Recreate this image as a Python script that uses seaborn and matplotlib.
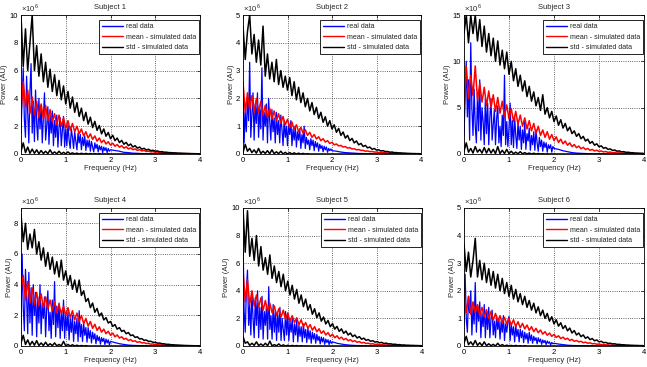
"""Power spectra of real vs simulated data for six subjects (2x3 grid)."""

import matplotlib

matplotlib.use("Agg")
import matplotlib.pyplot as plt
import seaborn as sns
from matplotlib.lines import Line2D

# frequency axis of the simulated spectra (Hz)
freq_hz = [
    0.00, 0.05, 0.10, 0.15, 0.20, 0.25, 0.30, 0.35, 0.40, 0.45,
    0.50, 0.55, 0.60, 0.65, 0.70, 0.75, 0.80, 0.85, 0.90, 0.95,
    1.00, 1.05, 1.10, 1.15, 1.20, 1.25, 1.30, 1.35, 1.40, 1.45,
    1.50, 1.55, 1.60, 1.65, 1.70, 1.75, 1.80, 1.85, 1.90, 1.95,
    2.00, 2.05, 2.10, 2.15, 2.20, 2.25, 2.30, 2.35, 2.40, 2.45,
    2.50, 2.55, 2.60, 2.65, 2.70, 2.75, 2.80, 2.85, 2.90, 2.95,
    3.00, 3.05, 3.10, 3.15, 3.20, 3.25, 3.30, 3.35, 3.40, 3.45,
    3.50, 3.55, 3.60, 3.65, 3.70, 3.75, 3.80, 3.85, 3.90, 3.95,
    4.00,
]

# frequency axis of the real spectra (finer below 2 Hz)
real_freq_hz = [
    0.000, 0.025, 0.050, 0.075, 0.100, 0.125, 0.150, 0.175, 0.200, 0.225,
    0.250, 0.275, 0.300, 0.325, 0.350, 0.375, 0.400, 0.425, 0.450, 0.475,
    0.500, 0.525, 0.550, 0.575, 0.600, 0.625, 0.650, 0.675, 0.700, 0.725,
    0.750, 0.775, 0.800, 0.825, 0.850, 0.875, 0.900, 0.925, 0.950, 0.975,
    1.000, 1.025, 1.050, 1.075, 1.100, 1.125, 1.150, 1.175, 1.200, 1.225,
    1.250, 1.275, 1.300, 1.325, 1.350, 1.375, 1.400, 1.425, 1.450, 1.475,
    1.500, 1.525, 1.550, 1.575, 1.600, 1.625, 1.650, 1.675, 1.700, 1.725,
    1.750, 1.775, 1.800, 1.825, 1.850, 1.875, 1.900, 1.925, 1.950, 1.975,
    2.0, 2.1, 2.2, 2.3, 2.4, 2.5, 2.6, 2.7, 2.8, 2.9,
    3.0, 3.1, 3.2, 3.3, 3.4, 3.5, 3.6, 3.7, 3.8, 3.9,
    4.0,
]

# power values in units of 1e6 (AU)
s1_real = [
    1.5, 4.0, 6.2, 2.5, 1.2, 5.6, 3.0, 0.8, 4.5, 6.5,
    1.5, 3.8, 0.9, 4.6, 2.2, 1.0, 4.0, 1.8, 3.5, 0.8,
    2.6, 4.4, 1.0, 2.0, 3.4, 0.7, 2.8, 1.5, 3.1, 0.6,
    2.4, 1.2, 2.8, 0.5, 2.0, 2.6, 0.6, 1.7, 2.7, 0.5,
    1.8, 0.6, 2.1, 1.0, 0.4, 1.8, 1.2, 0.4, 1.6, 0.9,
    0.3, 1.5, 0.8, 1.4, 0.3, 1.2, 0.6, 1.3, 0.25, 1.0,
    0.5, 1.0, 0.2, 0.9, 0.5, 0.15, 0.8, 0.4, 0.7, 0.15,
    0.6, 0.3, 0.55, 0.1, 0.5, 0.25, 0.45, 0.1, 0.4, 0.2,
    0.3, 0.25, 0.2, 0.12, 0.1, 0.06, 0.05, 0.03, 0.02, 0.02,
    0.01, 0.01, 0.01, 0, 0.01, 0, 0, 0, 0, 0,
    0,
]
s1_mean = [
    3.0, 5.2, 3.4, 4.6, 2.9, 4.1, 2.8, 3.8, 2.6, 3.6,
    2.5, 3.5, 2.4, 3.2, 2.3, 2.9, 2.1, 2.8, 2.0, 2.6,
    1.85, 2.4, 1.7, 2.2, 1.6, 2.0, 1.45, 1.8, 1.3, 1.6,
    1.15, 1.45, 1.05, 1.3, 0.92, 1.15, 0.82, 1.0, 0.72, 0.88,
    0.64, 0.78, 0.56, 0.68, 0.49, 0.6, 0.42, 0.52, 0.36, 0.44,
    0.31, 0.37, 0.26, 0.31, 0.22, 0.26, 0.18, 0.21, 0.15, 0.17,
    0.12, 0.14, 0.1, 0.11, 0.08, 0.085, 0.06, 0.065, 0.05, 0.05,
    0.04, 0.04, 0.03, 0.03, 0.025, 0.022, 0.018, 0.016, 0.013, 0.012,
    0.01,
]
s1_std_hi = [
    10.0, 6.3, 9.0, 6.0, 8.0, 10.0, 6.0, 7.8, 5.6, 7.2,
    5.2, 6.6, 4.8, 6.1, 4.5, 5.7, 4.2, 5.3, 3.9, 4.9,
    3.6, 4.5, 3.3, 4.1, 3.0, 3.7, 2.7, 3.3, 2.4, 3.0,
    2.15, 2.65, 1.9, 2.35, 1.7, 2.05, 1.45, 1.8, 1.28, 1.55,
    1.1, 1.35, 0.96, 1.15, 0.82, 0.98, 0.7, 0.84, 0.6, 0.72,
    0.5, 0.6, 0.42, 0.5, 0.35, 0.41, 0.29, 0.34, 0.24, 0.27,
    0.2, 0.22, 0.16, 0.17, 0.13, 0.13, 0.1, 0.1, 0.08, 0.08,
    0.06, 0.06, 0.05, 0.045, 0.038, 0.034, 0.028, 0.025, 0.021, 0.018,
    0.015,
]
s1_std_lo = [
    0.2, 0.8, 0.1, 0.5, 0.05, 0.35, 0.05, 0.3, 0.02, 0.25,
    0.03, 0.2, 0.02, 0.3, 0.02, 0.15, 0.01, 0.2, 0.01, 0.12,
    0.01, 0.15, 0.01, 0.08, 0.01, 0.06, 0, 0.05, 0, 0.04,
    0, 0.03, 0, 0.02, 0, 0.02, 0, 0.01, 0, 0.01,
    0, 0, 0, 0, 0, 0, 0, 0, 0, 0,
    0, 0, 0, 0, 0, 0, 0, 0, 0, 0,
    0, 0, 0, 0, 0, 0, 0, 0, 0, 0,
    0, 0, 0, 0, 0, 0, 0, 0, 0, 0,
    0,
]

s2_real = [
    2.6, 0.4, 1.5, 0.8, 2.0, 1.2, 3.3, 0.6, 1.4, 2.2,
    0.5, 1.8, 1.1, 2.2, 0.6, 1.6, 0.9, 3.1, 0.5, 1.5,
    1.0, 1.8, 0.4, 2.0, 1.2, 0.5, 1.6, 0.8, 1.3, 0.4,
    1.5, 0.7, 1.2, 0.4, 1.4, 0.9, 0.3, 1.2, 0.6, 1.0,
    0.3, 1.1, 0.7, 1.2, 0.3, 0.9, 0.5, 1.0, 0.25, 0.8,
    0.5, 0.9, 0.2, 0.7, 0.4, 1.0, 0.2, 0.6, 0.35, 0.5,
    0.15, 0.55, 0.3, 0.5, 0.12, 0.45, 0.25, 0.4, 0.1, 0.35,
    0.2, 0.3, 0.08, 0.28, 0.15, 0.25, 0.06, 0.2, 0.12, 0.18,
    0.12, 0.1, 0.07, 0.05, 0.04, 0.03, 0.02, 0.015, 0.01, 0.01,
    0.01, 0, 0.01, 0, 0, 0, 0, 0, 0, 0,
    0,
]
s2_mean = [
    2.6, 1.5, 2.2, 1.6, 2.1, 1.5, 2.0, 1.5, 1.9, 1.4,
    1.75, 1.3, 1.65, 1.25, 1.55, 1.2, 1.45, 1.1, 1.35, 1.05,
    1.25, 0.95, 1.15, 0.88, 1.05, 0.8, 0.96, 0.74, 0.87, 0.67,
    0.78, 0.6, 0.7, 0.54, 0.62, 0.48, 0.55, 0.43, 0.48, 0.38,
    0.42, 0.33, 0.36, 0.29, 0.31, 0.25, 0.27, 0.21, 0.23, 0.18,
    0.19, 0.15, 0.16, 0.13, 0.13, 0.1, 0.11, 0.085, 0.09, 0.07,
    0.07, 0.055, 0.055, 0.045, 0.042, 0.035, 0.032, 0.027, 0.024, 0.02,
    0.018, 0.015, 0.013, 0.011, 0.01, 0.008, 0.007, 0.006, 0.005, 0.004,
    0.004,
]
s2_std_hi = [
    4.6, 3.4, 4.4, 5.0, 3.6, 4.3, 3.3, 4.1, 3.2, 4.6,
    2.8, 3.6, 2.7, 3.3, 2.6, 3.4, 2.5, 3.0, 2.4, 2.8,
    2.3, 2.75, 2.1, 2.6, 1.95, 2.4, 1.85, 2.2, 1.7, 2.0,
    1.55, 1.85, 1.42, 1.68, 1.28, 1.5, 1.14, 1.34, 1.0, 1.2,
    0.9, 1.05, 0.78, 0.92, 0.67, 0.79, 0.57, 0.67, 0.48, 0.56,
    0.4, 0.47, 0.33, 0.38, 0.27, 0.31, 0.22, 0.25, 0.17, 0.2,
    0.14, 0.15, 0.11, 0.12, 0.085, 0.09, 0.065, 0.07, 0.05, 0.05,
    0.04, 0.038, 0.03, 0.028, 0.022, 0.02, 0.016, 0.015, 0.012, 0.011,
    0.009,
]
s2_std_lo = [
    0.05, 0.35, 0.1, 0.2, 0.05, 0.15, 0.03, 0.2, 0.02, 0.1,
    0.02, 0.12, 0.01, 0.15, 0.01, 0.08, 0.01, 0.1, 0, 0.06,
    0, 0.05, 0, 0.04, 0, 0.03, 0, 0.02, 0, 0.01,
    0, 0, 0, 0, 0, 0, 0, 0, 0, 0,
    0, 0, 0, 0, 0, 0, 0, 0, 0, 0,
    0, 0, 0, 0, 0, 0, 0, 0, 0, 0,
    0, 0, 0, 0, 0, 0, 0, 0, 0, 0,
    0, 0, 0, 0, 0, 0, 0, 0, 0, 0,
    0,
]

s3_real = [
    2.0, 6.0, 10.0, 4.0, 8.0, 1.5, 12.0, 5.0, 2.0, 7.0,
    3.0, 1.2, 6.5, 2.5, 8.0, 1.5, 5.0, 3.5, 1.0, 6.0,
    2.2, 5.5, 1.0, 4.0, 6.0, 1.5, 3.2, 4.8, 1.0, 3.8,
    5.2, 1.2, 3.0, 0.8, 4.2, 2.0, 8.5, 1.0, 3.5, 0.8,
    2.8, 5.5, 1.0, 3.6, 0.7, 4.0, 2.0, 0.6, 3.4, 1.5,
    3.0, 0.5, 2.6, 1.2, 3.5, 0.5, 2.2, 1.4, 2.8, 0.4,
    2.0, 1.0, 2.4, 0.4, 2.6, 1.2, 0.3, 1.8, 0.8, 1.5,
    0.3, 1.3, 0.7, 1.2, 0.2, 1.0, 0.6, 1.0, 0.2, 0.8,
    0.6, 0.5, 0.35, 0.25, 0.15, 0.1, 0.07, 0.05, 0.03, 0.02,
    0.02, 0.01, 0.01, 0, 0.01, 0, 0, 0, 0, 0,
    0,
]
s3_mean = [
    5.0, 9.5, 6.0, 8.5, 6.3, 9.5, 5.8, 7.6, 5.6, 7.2,
    5.2, 6.8, 5.0, 6.4, 4.6, 6.1, 4.4, 5.7, 4.1, 5.3,
    3.8, 4.9, 3.5, 4.6, 3.2, 4.2, 3.0, 3.9, 2.7, 3.6,
    2.5, 3.3, 2.2, 3.0, 2.0, 2.6, 1.8, 2.4, 1.6, 2.1,
    1.45, 1.85, 1.25, 1.6, 1.1, 1.4, 0.95, 1.2, 0.8, 1.02,
    0.68, 0.86, 0.57, 0.72, 0.48, 0.6, 0.4, 0.5, 0.33, 0.41,
    0.27, 0.33, 0.22, 0.27, 0.18, 0.21, 0.14, 0.17, 0.11, 0.13,
    0.09, 0.1, 0.07, 0.08, 0.055, 0.06, 0.043, 0.045, 0.033, 0.034,
    0.026,
]
s3_std_hi = [
    13.0, 15.0, 12.0, 15.0, 13.0, 15.0, 12.2, 14.5, 11.6, 13.8,
    11.0, 13.0, 10.6, 12.5, 10.0, 12.2, 9.6, 11.2, 9.2, 11.0,
    8.6, 10.0, 7.9, 9.2, 7.3, 8.5, 6.8, 7.9, 6.2, 7.3,
    5.7, 6.7, 5.2, 6.1, 4.7, 6.4, 4.3, 5.0, 3.9, 4.6,
    3.5, 4.1, 3.1, 3.7, 2.8, 3.3, 2.5, 2.9, 2.2, 2.5,
    1.9, 2.2, 1.65, 1.9, 1.4, 1.6, 1.15, 1.35, 0.95, 1.1,
    0.78, 0.88, 0.62, 0.7, 0.5, 0.55, 0.39, 0.43, 0.3, 0.33,
    0.24, 0.25, 0.18, 0.19, 0.14, 0.14, 0.1, 0.1, 0.08, 0.075,
    0.06,
]
s3_std_lo = [
    0.3, 1.2, 0.2, 0.6, 0.1, 0.8, 0.2, 0.5, 0.1, 0.7,
    0.1, 0.6, 0.1, 0.5, 0.05, 0.8, 0.05, 0.4, 0.05, 0.5,
    0.03, 0.3, 0.02, 0.2, 0.02, 0.25, 0.01, 0.15, 0.01, 0.1,
    0, 0.08, 0, 0.05, 0, 0.03, 0, 0.02, 0, 0.01,
    0, 0, 0, 0, 0, 0, 0, 0, 0, 0,
    0, 0, 0, 0, 0, 0, 0, 0, 0, 0,
    0, 0, 0, 0, 0, 0, 0, 0, 0, 0,
    0, 0, 0, 0, 0, 0, 0, 0, 0, 0,
    0,
]

s4_real = [
    1.5, 6.0, 2.5, 1.0, 5.0, 3.2, 0.8, 4.8, 1.5, 3.8,
    0.7, 4.0, 2.0, 3.5, 0.6, 3.2, 1.5, 4.0, 0.8, 2.8,
    1.8, 3.2, 0.6, 2.5, 3.6, 1.0, 2.2, 0.5, 3.0, 1.4,
    4.2, 0.6, 2.6, 1.2, 2.8, 0.5, 2.2, 1.0, 3.0, 0.5,
    2.0, 1.0, 2.2, 0.4, 1.8, 0.9, 2.0, 0.3, 1.6, 0.8,
    1.8, 0.3, 2.3, 0.6, 1.4, 0.3, 1.5, 0.7, 1.2, 0.25,
    1.2, 0.5, 1.0, 0.2, 0.9, 0.45, 0.8, 0.15, 0.7, 0.35,
    0.6, 0.12, 0.55, 0.3, 0.5, 0.1, 0.45, 0.2, 0.4, 0.08,
    0.3, 0.22, 0.15, 0.1, 0.06, 0.04, 0.03, 0.02, 0.01, 0.01,
    0.01, 0, 0.01, 0, 0, 0, 0, 0, 0, 0,
    0,
]
s4_mean = [
    3.6, 4.6, 3.0, 4.2, 2.8, 3.8, 2.7, 3.5, 2.6, 3.4,
    2.5, 3.2, 2.4, 3.0, 2.3, 2.9, 2.2, 2.7, 2.1, 2.6,
    2.0, 2.5, 1.85, 2.3, 1.7, 2.15, 1.6, 2.0, 1.45, 1.8,
    1.3, 1.6, 1.15, 1.42, 1.02, 1.25, 0.9, 1.1, 0.8, 0.96,
    0.7, 0.84, 0.6, 0.72, 0.52, 0.6, 0.44, 0.5, 0.36, 0.42,
    0.3, 0.34, 0.24, 0.28, 0.2, 0.22, 0.16, 0.17, 0.12, 0.13,
    0.09, 0.1, 0.07, 0.075, 0.055, 0.055, 0.04, 0.04, 0.03, 0.03,
    0.022, 0.02, 0.016, 0.015, 0.012, 0.011, 0.009, 0.008, 0.006, 0.006,
    0.005,
]
s4_std_hi = [
    8.6, 6.8, 8.0, 6.3, 7.3, 6.4, 7.6, 6.0, 6.8, 5.6,
    6.4, 5.2, 6.1, 5.0, 5.8, 4.7, 5.5, 4.5, 5.6, 4.3,
    4.9, 4.0, 4.6, 3.7, 4.3, 3.5, 4.3, 3.3, 3.6, 2.9,
    3.1, 2.5, 2.8, 2.2, 2.45, 1.95, 2.15, 1.7, 1.85, 1.5,
    1.6, 1.28, 1.4, 1.1, 1.2, 0.95, 1.02, 0.8, 0.88, 0.68,
    0.72, 0.56, 0.6, 0.46, 0.48, 0.37, 0.39, 0.3, 0.31, 0.24,
    0.24, 0.19, 0.19, 0.15, 0.14, 0.11, 0.11, 0.085, 0.08, 0.065,
    0.06, 0.05, 0.045, 0.036, 0.032, 0.026, 0.022, 0.018, 0.015, 0.013,
    0.01,
]
s4_std_lo = [
    0.2, 0.7, 0.1, 0.4, 0.05, 0.3, 0.05, 0.35, 0.03, 0.2,
    0.03, 0.25, 0.02, 0.15, 0.02, 0.2, 0.01, 0.1, 0.01, 0.3,
    0.01, 0.1, 0, 0.08, 0, 0.05, 0, 0.03, 0, 0.02,
    0, 0, 0, 0, 0, 0, 0, 0, 0, 0,
    0, 0, 0, 0, 0, 0, 0, 0, 0, 0,
    0, 0, 0, 0, 0, 0, 0, 0, 0, 0,
    0, 0, 0, 0, 0, 0, 0, 0, 0, 0,
    0, 0, 0, 0, 0, 0, 0, 0, 0, 0,
    0,
]

s5_real = [
    8.0, 2.5, 1.0, 4.0, 5.5, 1.5, 3.0, 0.8, 3.8, 2.0,
    0.6, 3.5, 1.5, 4.0, 0.6, 2.8, 1.2, 3.6, 0.5, 2.5,
    1.5, 3.0, 0.5, 4.3, 1.2, 2.2, 0.5, 3.0, 1.0, 2.6,
    0.4, 2.4, 1.0, 2.8, 0.4, 2.0, 1.2, 0.4, 2.5, 0.8,
    2.3, 0.4, 1.8, 1.0, 2.0, 0.3, 1.6, 0.8, 1.9, 0.3,
    1.5, 0.7, 1.4, 0.3, 1.6, 0.6, 1.2, 0.25, 1.3, 0.5,
    1.1, 0.2, 1.0, 0.5, 0.9, 0.2, 0.85, 0.4, 0.7, 0.15,
    0.65, 0.3, 0.6, 0.12, 0.5, 0.25, 0.45, 0.1, 0.4, 0.2,
    0.3, 0.2, 0.14, 0.09, 0.06, 0.04, 0.03, 0.02, 0.01, 0.01,
    0.01, 0, 0, 0, 0, 0, 0, 0, 0, 0,
    0,
]
s5_mean = [
    5.5, 3.2, 4.8, 3.0, 4.0, 2.9, 3.7, 2.8, 3.5, 2.6,
    3.3, 2.5, 3.1, 2.4, 2.9, 2.2, 2.7, 2.1, 2.6, 1.95,
    2.4, 1.8, 2.2, 1.7, 2.05, 1.55, 1.9, 1.4, 1.7, 1.28,
    1.55, 1.15, 1.4, 1.03, 1.25, 0.92, 1.1, 0.8, 0.97, 0.7,
    0.85, 0.6, 0.74, 0.52, 0.64, 0.45, 0.55, 0.38, 0.46, 0.32,
    0.39, 0.27, 0.32, 0.22, 0.26, 0.18, 0.21, 0.14, 0.17, 0.11,
    0.13, 0.09, 0.1, 0.07, 0.08, 0.055, 0.06, 0.042, 0.045, 0.032,
    0.034, 0.024, 0.025, 0.018, 0.018, 0.013, 0.013, 0.01, 0.009, 0.007,
    0.006,
]
s5_std_hi = [
    10.0, 6.8, 9.8, 6.5, 7.8, 6.2, 8.0, 5.8, 7.2, 5.5,
    6.4, 5.2, 6.6, 4.9, 5.8, 4.6, 5.4, 4.3, 5.2, 4.0,
    4.7, 3.7, 4.4, 3.4, 4.1, 3.1, 3.7, 2.85, 3.4, 2.6,
    3.0, 2.3, 2.7, 2.05, 2.4, 1.8, 2.1, 1.6, 1.85, 1.4,
    1.62, 1.22, 1.42, 1.06, 1.24, 0.92, 1.08, 0.8, 0.94, 0.68,
    0.8, 0.58, 0.68, 0.49, 0.57, 0.41, 0.47, 0.34, 0.39, 0.28,
    0.32, 0.23, 0.26, 0.18, 0.21, 0.15, 0.16, 0.12, 0.13, 0.09,
    0.1, 0.07, 0.075, 0.055, 0.057, 0.042, 0.043, 0.032, 0.032, 0.024,
    0.02,
]
s5_std_lo = [
    0.7, 0.2, 0.3, 0.05, 0.2, 0.05, 0.3, 0.03, 0.15, 0.02,
    0.2, 0.02, 0.35, 0.01, 0.1, 0.01, 0.15, 0, 0.08, 0,
    0.05, 0, 0.04, 0, 0.03, 0, 0.02, 0, 0.01, 0,
    0, 0, 0, 0, 0, 0, 0, 0, 0, 0,
    0, 0, 0, 0, 0, 0, 0, 0, 0, 0,
    0, 0, 0, 0, 0, 0, 0, 0, 0, 0,
    0, 0, 0, 0, 0, 0, 0, 0, 0, 0,
    0, 0, 0, 0, 0, 0, 0, 0, 0, 0,
    0,
]

s6_real = [
    0.8, 2.6, 1.0, 0.5, 1.8, 1.2, 2.0, 0.4, 1.4, 0.8,
    2.3, 0.5, 1.5, 0.9, 1.6, 0.3, 1.2, 0.7, 1.5, 0.3,
    1.25, 0.6, 1.4, 0.3, 1.0, 1.3, 0.4, 0.9, 0.3, 1.1,
    0.6, 1.0, 0.25, 0.9, 0.5, 1.1, 0.2, 0.8, 0.5, 0.9,
    1.07, 0.2, 0.8, 0.4, 0.7, 0.15, 0.75, 0.35, 0.6, 0.15,
    0.6, 0.3, 0.55, 0.12, 0.5, 0.25, 0.45, 0.1, 0.5, 0.2,
    0.4, 0.1, 0.35, 0.2, 0.3, 0.08, 0.3, 0.15, 0.25, 0.06,
    0.22, 0.12, 0.2, 0.05, 0.18, 0.1, 0.15, 0.04, 0.13, 0.08,
    0.1, 0.07, 0.05, 0.03, 0.02, 0.015, 0.01, 0.01, 0.005, 0.005,
    0, 0, 0, 0, 0, 0, 0, 0, 0, 0,
    0,
]
s6_mean = [
    2.0, 1.2, 1.8, 1.15, 1.6, 1.2, 1.5, 1.1, 1.4, 1.05,
    1.32, 1.0, 1.25, 0.94, 1.18, 0.88, 1.1, 0.84, 1.04, 0.8,
    1.0, 0.76, 0.95, 0.7, 0.88, 0.66, 0.82, 0.62, 0.76, 0.57,
    0.7, 0.52, 0.64, 0.48, 0.58, 0.43, 0.52, 0.39, 0.47, 0.35,
    0.42, 0.31, 0.37, 0.27, 0.32, 0.24, 0.28, 0.2, 0.24, 0.17,
    0.2, 0.15, 0.17, 0.12, 0.14, 0.1, 0.115, 0.08, 0.09, 0.065,
    0.07, 0.05, 0.055, 0.04, 0.042, 0.03, 0.032, 0.023, 0.024, 0.017,
    0.018, 0.013, 0.013, 0.01, 0.01, 0.007, 0.007, 0.005, 0.005, 0.004,
    0.003,
]
s6_std_hi = [
    3.7, 2.7, 3.4, 2.5, 3.1, 3.9, 2.5, 3.1, 2.4, 3.0,
    2.3, 2.8, 2.2, 2.7, 2.1, 2.6, 2.0, 2.45, 1.9, 2.3,
    1.8, 2.2, 1.7, 2.05, 1.6, 1.9, 1.5, 1.8, 1.4, 1.65,
    1.3, 1.55, 1.2, 1.42, 1.1, 1.3, 1.0, 1.18, 0.9, 1.06,
    0.8, 0.95, 0.72, 0.84, 0.63, 0.74, 0.55, 0.65, 0.47, 0.56,
    0.4, 0.47, 0.34, 0.4, 0.28, 0.33, 0.23, 0.27, 0.19, 0.22,
    0.15, 0.17, 0.12, 0.13, 0.095, 0.1, 0.075, 0.08, 0.058, 0.06,
    0.045, 0.045, 0.034, 0.034, 0.026, 0.025, 0.02, 0.019, 0.015, 0.014,
    0.011,
]
s6_std_lo = [
    0.1, 0.35, 0.05, 0.15, 0.03, 0.2, 0.02, 0.12, 0.01, 0.15,
    0.01, 0.08, 0.01, 0.06, 0, 0.1, 0, 0.05, 0, 0.03,
    0, 0.02, 0, 0.02, 0, 0.01, 0, 0.01, 0, 0,
    0, 0, 0, 0, 0, 0, 0, 0, 0, 0,
    0, 0, 0, 0, 0, 0, 0, 0, 0, 0,
    0, 0, 0, 0, 0, 0, 0, 0, 0, 0,
    0, 0, 0, 0, 0, 0, 0, 0, 0, 0,
    0, 0, 0, 0, 0, 0, 0, 0, 0, 0,
    0,
]

subjects = ["Subject 1", "Subject 2", "Subject 3", "Subject 4", "Subject 5", "Subject 6"]
y_max = [10, 5, 15, 9, 10, 5]
y_ticks = [
    [0, 2, 4, 6, 8, 10],
    [0, 1, 2, 3, 4, 5],
    [0, 5, 10, 15],
    [0, 2, 4, 6, 8],
    [0, 2, 4, 6, 8, 10],
    [0, 1, 2, 3, 4, 5],
]
legend_labels = ["real data", "mean - simulated data", "std - simulated data"]

real_data = [s1_real, s2_real, s3_real, s4_real, s5_real, s6_real]
mean_sim = [s1_mean, s2_mean, s3_mean, s4_mean, s5_mean, s6_mean]
std_hi = [s1_std_hi, s2_std_hi, s3_std_hi, s4_std_hi, s5_std_hi, s6_std_hi]
std_lo = [s1_std_lo, s2_std_lo, s3_std_lo, s4_std_lo, s5_std_lo, s6_std_lo]

FIG_W, FIG_H = 647, 367
# axes boxes in pixels: left, top, right, bottom
PANEL_BOXES = [
    (21, 15, 200, 154), (243, 15, 421, 154), (464, 15, 644, 154),
    (21, 208, 200, 346), (243, 208, 422, 346), (464, 208, 644, 346),
]
BLUE, RED, BLACK = "#0000ff", "#ff0000", "#000000"
FS = 5.5


def draw_panel(ax, i):
    """Draw one subject's spectra."""
    kw = dict(ax=ax, errorbar=None, legend=False)
    sns.lineplot(x=real_freq_hz, y=real_data[i], color=BLUE, lw=0.9, **kw)
    sns.lineplot(x=freq_hz, y=mean_sim[i], color=RED, lw=1.1, **kw)
    sns.lineplot(x=freq_hz, y=std_hi[i], color=BLACK, lw=1.1, **kw)
    sns.lineplot(x=freq_hz, y=std_lo[i], color=BLACK, lw=1.1, **kw)

    ax.set_xlim(0, 4)
    ax.set_ylim(0, y_max[i])
    ax.set_xticks([0, 1, 2, 3, 4])
    ax.set_yticks(y_ticks[i])
    ax.set_axisbelow(True)
    ax.grid(True, linestyle=":", color="0.2", linewidth=0.6)
    ax.tick_params(direction="in", length=2, width=0.5, top=True, right=True,
                   labelsize=FS, pad=2, colors="black")
    for sp in ax.spines.values():
        sp.set_color("black")
        sp.set_linewidth(0.6)

    ax.set_title(subjects[i], fontsize=FS, pad=4)
    ax.set_xlabel("Frequency (Hz)", fontsize=FS, labelpad=1)
    ax.set_ylabel("Power (AU)", fontsize=FS, labelpad=1)
    ax.text(0.0, 1.01, r"$\times10^{6}$", transform=ax.transAxes,
            fontsize=FS, ha="left", va="bottom")

    handles = [Line2D([], [], color=c, lw=1.0) for c in (BLUE, RED, BLACK)]
    leg = ax.legend(handles, legend_labels, loc="upper right",
                    bbox_to_anchor=(1.0, 0.97), fontsize=5.1,
                    frameon=True, fancybox=False, framealpha=1, edgecolor="black",
                    borderaxespad=0.1, handlelength=3.0, labelspacing=0.5,
                    borderpad=0.45, handletextpad=0.4)
    leg.get_frame().set_linewidth(0.6)


def main():
    sns.set_theme(style="white")
    plt.rcParams["font.family"] = ["Liberation Sans", "DejaVu Sans"]
    plt.rcParams["mathtext.fontset"] = "custom"
    plt.rcParams["mathtext.rm"] = "Liberation Sans"

    fig = plt.figure(figsize=(FIG_W / 100, FIG_H / 100), dpi=100)
    fig.patch.set_facecolor("white")
    for i, (l, t, r, b) in enumerate(PANEL_BOXES):
        ax = fig.add_axes([l / FIG_W, 1 - b / FIG_H, (r - l) / FIG_W, (b - t) / FIG_H])
        draw_panel(ax, i)

    fig.savefig("out.png", dpi=100)
    plt.close(fig)


if __name__ == "__main__":
    main()
